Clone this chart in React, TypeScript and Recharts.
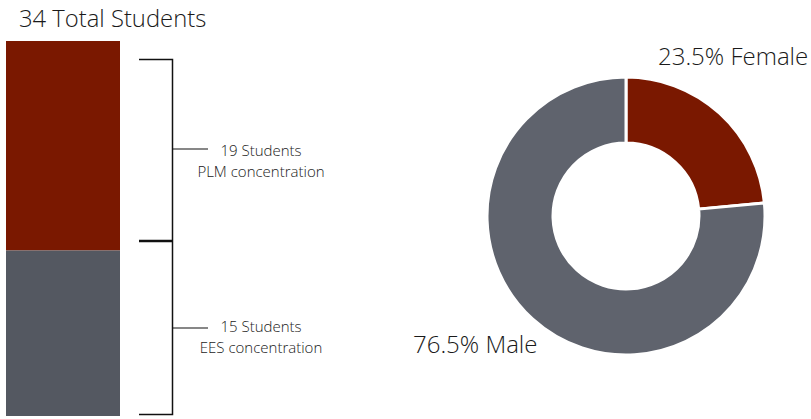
import { BarChart, Bar, XAxis, YAxis, PieChart, Pie, Cell } from 'recharts';

// students by concentration (stacked bar)
const concentrations = ['PLM concentration', 'EES concentration'];
const concentrationCounts = [19, 15];
const totalStudents = 34;

// gender split (donut)
const genders = ['Female', 'Male'];
const genderShares = [23.5, 76.5];

const RED = '#7a1800';
const BAR_GRAY = '#545861';
const PIE_GRAY = '#5f636d';
const FONT = '"Open Sans", Lato, sans-serif';

const barRow = [{ name: 'students', plm: concentrationCounts[0], ees: concentrationCounts[1] }];
const pieData = genders.map((g, i) => ({ name: g, value: genderShares[i] }));

export default function App() {
  return (
    <div
      style={{
        position: 'absolute',
        left: 0,
        top: 0,
        width: 811,
        height: 419,
        background: '#fff',
        overflow: 'hidden',
        fontFamily: FONT,
        color: '#1a1a1a',
      }}
    >
      {/* stacked bar */}
      <div style={{ position: 'absolute', left: 6, top: 41 }}>
        <BarChart
          width={114}
          height={375}
          data={barRow}
          margin={{ top: 0, right: 0, bottom: 0, left: 0 }}
          barCategoryGap={0}
        >
          <XAxis dataKey='name' hide />
          <YAxis hide domain={[0, totalStudents]} reversed />
          <Bar dataKey='plm' stackId='a' fill={RED} isAnimationActive={false} />
          <Bar dataKey='ees' stackId='a' fill={BAR_GRAY} isAnimationActive={false} />
        </BarChart>
      </div>

      {/* brackets */}
      <svg width={811} height={419} style={{ position: 'absolute', left: 0, top: 0 }}>
        <g stroke='#111' fill='none'>
          <polyline points='139,59.5 172.5,59.5 172.5,414.5 139,414.5' strokeWidth={1.5} />
          <line x1={139} y1={241} x2={172.5} y2={241} strokeWidth={2.5} />
          <line x1={172.5} y1={149} x2={208} y2={149} strokeWidth={1.2} />
          <line x1={172.5} y1={328} x2={208} y2={328} strokeWidth={1.2} />
        </g>
        <g fontFamily={FONT} fill='#1a1a1a' fontWeight={300}>
          <text x={19} y={27} fontSize={23.8}>
            {totalStudents} Total Students
          </text>
          <text x={261} y={156} fontSize={15} textAnchor='middle'>
            {concentrationCounts[0]} Students
          </text>
          <text x={261} y={176.5} fontSize={15} textAnchor='middle'>
            {concentrations[0]}
          </text>
          <text x={261} y={332} fontSize={15} textAnchor='middle'>
            {concentrationCounts[1]} Students
          </text>
          <text x={261} y={352.5} fontSize={15} textAnchor='middle'>
            {concentrations[1]}
          </text>
          <text x={658} y={65} fontSize={24}>
            {genderShares[0]}% {genders[0]}
          </text>
          <text x={413} y={353} fontSize={24}>
            {genderShares[1]}% {genders[1]}
          </text>
        </g>
      </svg>

      {/* donut */}
      <div style={{ position: 'absolute', left: 426, top: 16 }}>
        <PieChart width={400} height={400} margin={{ top: 0, right: 0, bottom: 0, left: 0 }}>
          <Pie
            data={pieData}
            dataKey='value'
            cx={200}
            cy={200}
            innerRadius={73}
            outerRadius={139}
            startAngle={90}
            endAngle={-270}
            stroke='#fff'
            strokeWidth={3}
            isAnimationActive={false}
          >
            <Cell fill={RED} />
            <Cell fill={PIE_GRAY} />
          </Pie>
        </PieChart>
      </div>
    </div>
  );
}
